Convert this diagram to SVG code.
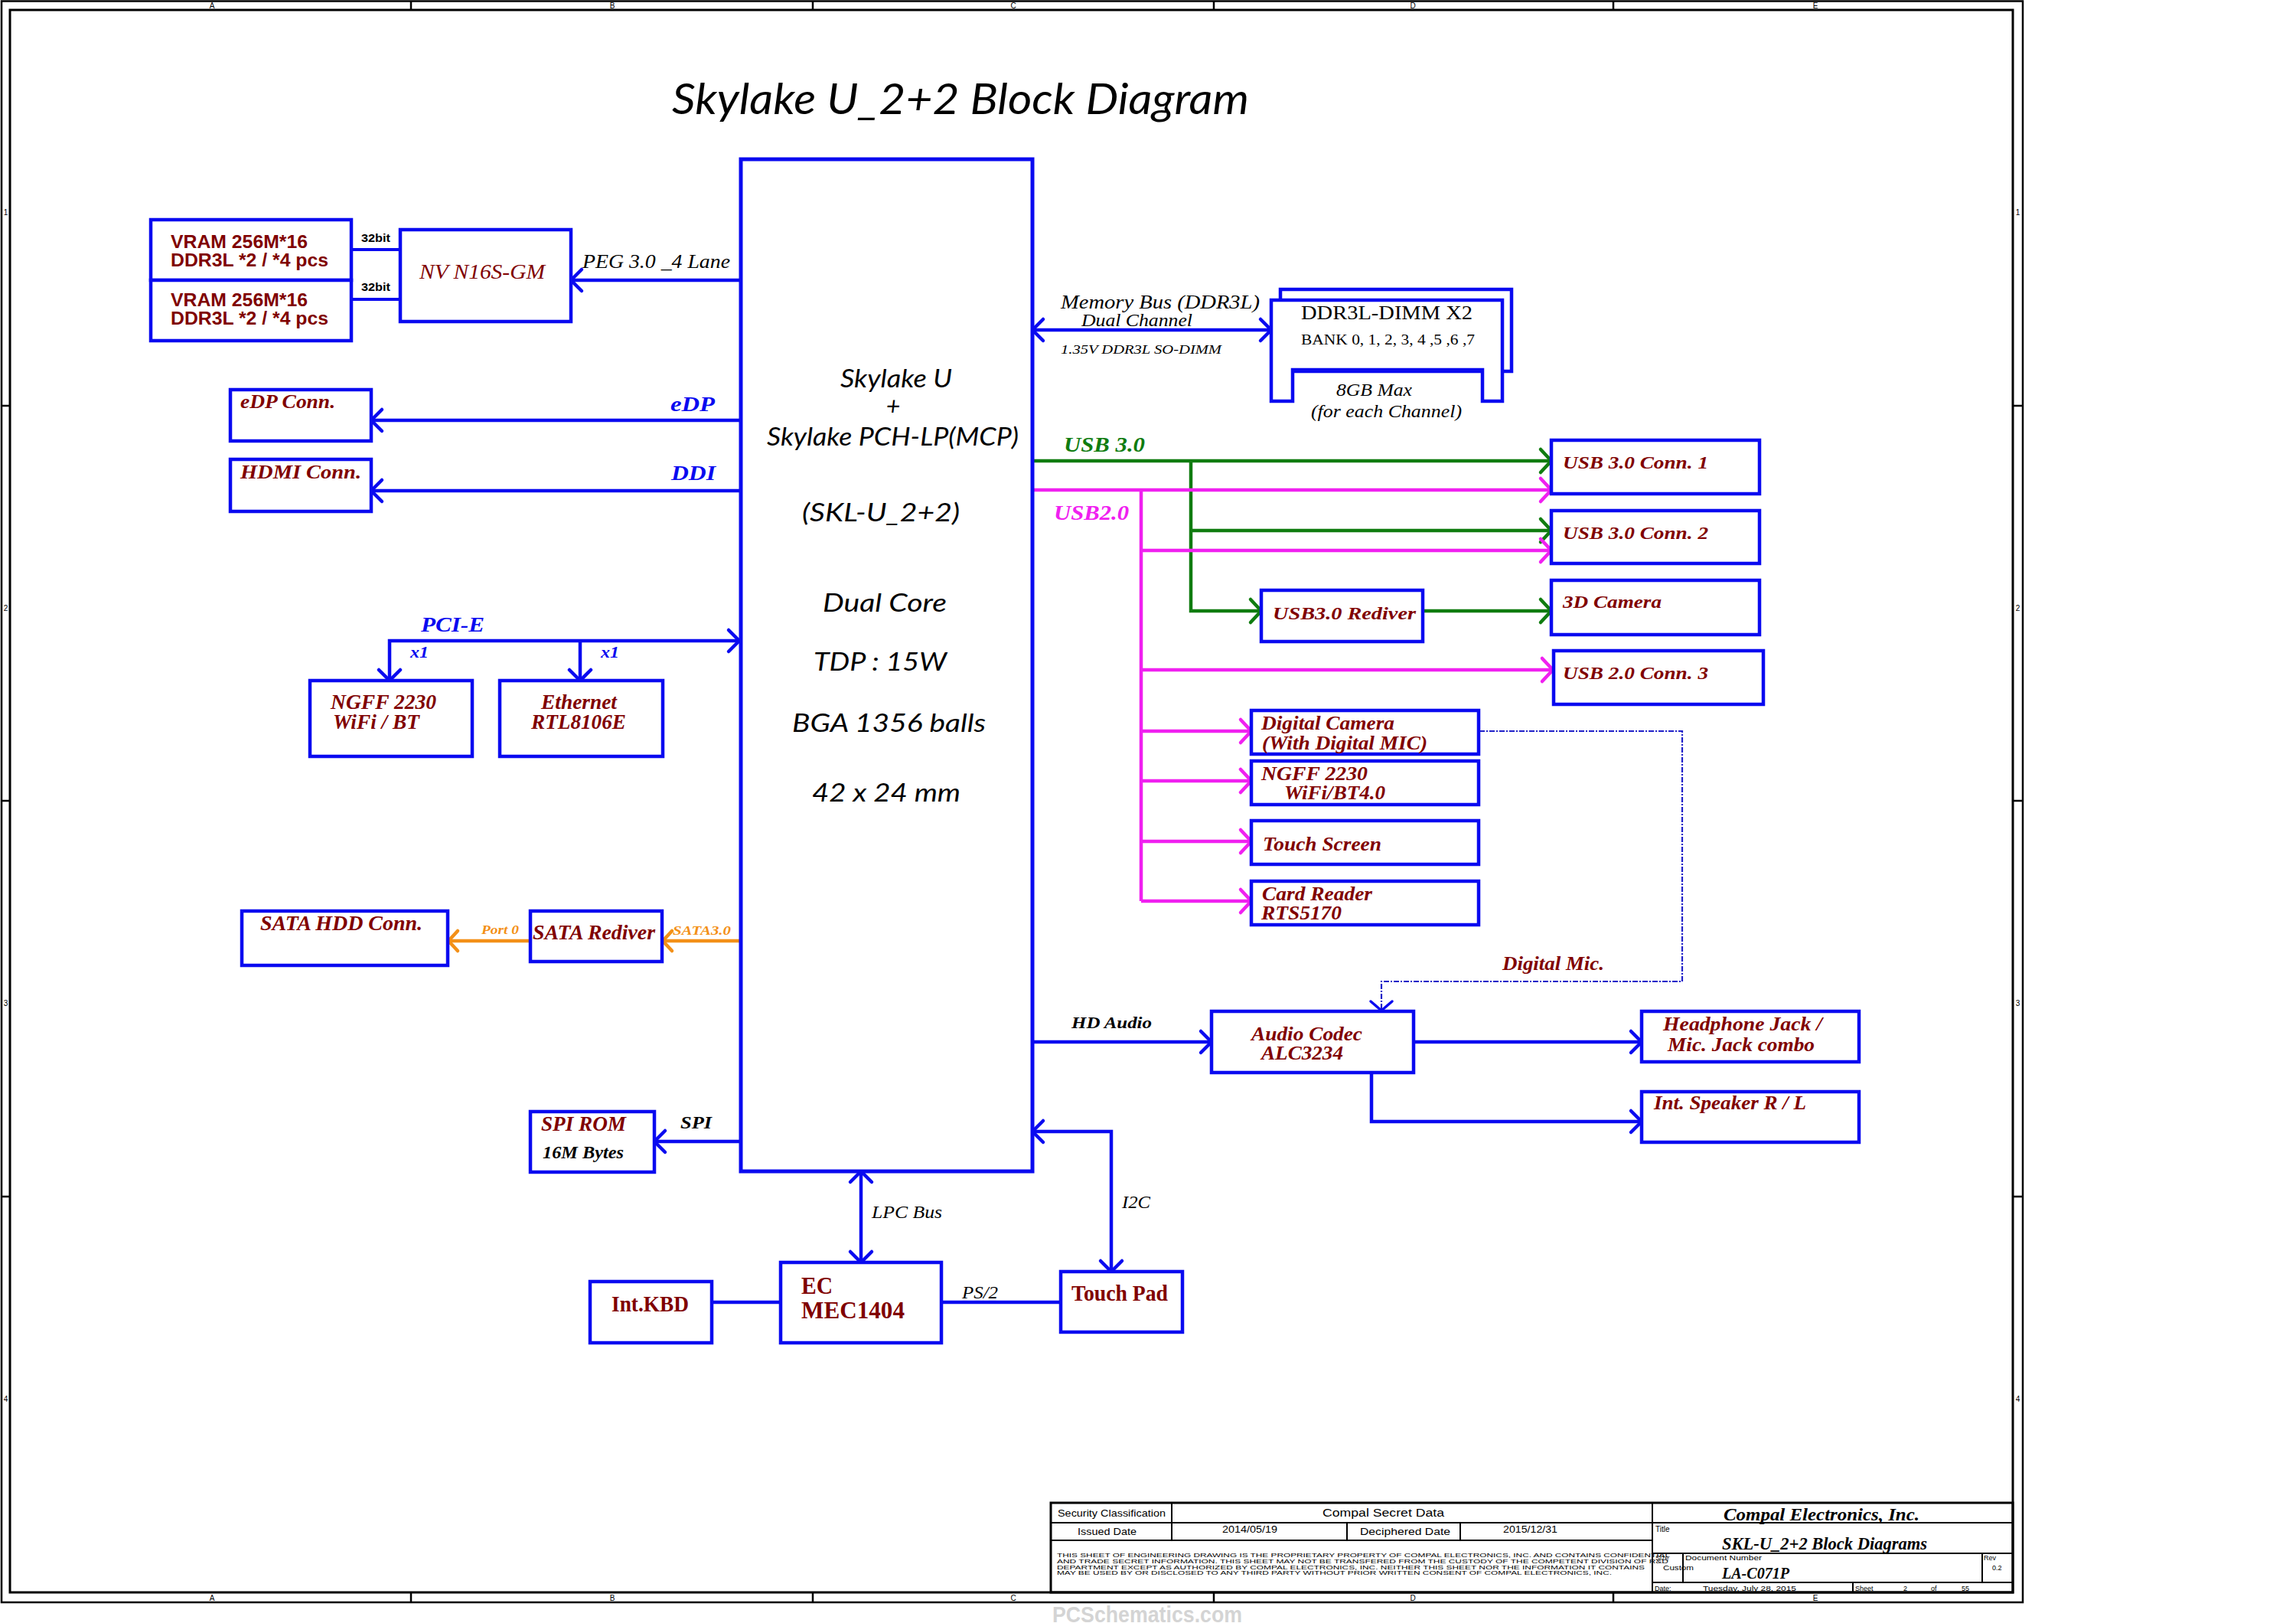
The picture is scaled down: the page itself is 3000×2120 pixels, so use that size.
<svg xmlns="http://www.w3.org/2000/svg" width="3000" height="2120" viewBox="0 0 3000 2120">
<style>
.box{fill:#fff;stroke:#0A0AF0;stroke-width:4.5}
.lb{fill:none;stroke:#0A0AF0;stroke-width:4.5}
.lg{fill:none;stroke:#107C10;stroke-width:4.5}
.lm{fill:none;stroke:#F020F0;stroke-width:4.5}
.lo{fill:none;stroke:#F39018;stroke-width:4.5}
.ld{fill:none;stroke:#2020C8;stroke-width:2.2;stroke-dasharray:7 2 2 2}
.fr{fill:none;stroke:#000;stroke-width:2.5}
.tb{fill:none;stroke:#000;stroke-width:2}
.r{font-family:"Liberation Serif",serif;font-style:italic;font-weight:bold;fill:#800000;font-size:26px}
.ru{font-family:"Liberation Serif",serif;font-weight:bold;fill:#800000;font-size:29px}
.k{font-family:"Liberation Serif",serif;font-style:italic;fill:#000;font-size:22px}
.kb{font-family:"Liberation Serif",serif;font-style:italic;font-weight:bold;fill:#000;font-size:22px}
.d{font-family:"Liberation Serif",serif;fill:#000;font-size:26px}
.bl{font-family:"Liberation Serif",serif;font-style:italic;font-weight:bold;fill:#0A0AF0;font-size:28px}
.gr{font-family:"Liberation Serif",serif;font-style:italic;font-weight:bold;fill:#107C10;font-size:28px}
.mg{font-family:"Liberation Serif",serif;font-style:italic;font-weight:bold;fill:#F020F0;font-size:28px}
.or{font-family:"Liberation Serif",serif;font-style:italic;font-weight:bold;fill:#F39018;font-size:17px}
.cb{font-family:"Liberation Serif",serif;font-style:italic;font-weight:bold;fill:#000;font-size:24px}
.v{font-family:"Liberation Sans",sans-serif;font-weight:bold;fill:#800000;font-size:23px}
.c{font-family:Lato,"Noto Sans",sans-serif;font-style:italic;fill:#000;font-size:32px}
.a{font-family:"Liberation Sans",sans-serif;fill:#000;font-size:13px}
.s{font-family:"Liberation Sans",sans-serif;fill:#000;font-size:10px}
.w{font-family:"Liberation Sans",sans-serif;font-weight:bold;fill:#D4D4D4;font-size:30px}
</style>
<defs>
<marker id="aB" markerUnits="userSpaceOnUse" viewBox="-20 -20 24 40" markerWidth="24" markerHeight="40" refX="0" refY="0" orient="auto-start-reverse"><path d="M-14,-14 L0,0 L-14,14" fill="none" stroke="#0A0AF0" stroke-width="4.5" stroke-linecap="round" stroke-linejoin="round"/></marker>
<marker id="aG" markerUnits="userSpaceOnUse" viewBox="-20 -20 24 40" markerWidth="24" markerHeight="40" refX="0" refY="0" orient="auto-start-reverse"><path d="M-14,-15 L0,0 L-14,15" fill="none" stroke="#107C10" stroke-width="4.5" stroke-linecap="round" stroke-linejoin="round"/></marker>
<marker id="aM" markerUnits="userSpaceOnUse" viewBox="-20 -20 24 40" markerWidth="24" markerHeight="40" refX="0" refY="0" orient="auto-start-reverse"><path d="M-14,-15 L0,0 L-14,15" fill="none" stroke="#F020F0" stroke-width="4.5" stroke-linecap="round" stroke-linejoin="round"/></marker>
<marker id="aO" markerUnits="userSpaceOnUse" viewBox="-20 -20 24 40" markerWidth="24" markerHeight="40" refX="0" refY="0" orient="auto-start-reverse"><path d="M-12,-13 L0,0 L-12,13" fill="none" stroke="#F39018" stroke-width="4.5" stroke-linecap="round" stroke-linejoin="round"/></marker>
<marker id="aD" markerUnits="userSpaceOnUse" viewBox="-20 -20 24 40" markerWidth="24" markerHeight="40" refX="0" refY="0" orient="auto-start-reverse"><path d="M-12,-14 L0,0 L-12,14" fill="none" stroke="#0A0AF0" stroke-width="3.5" stroke-linecap="round" stroke-linejoin="round"/></marker>
</defs>
<rect x="0" y="0" width="3000" height="2120" fill="#fff"/>

<g id="frame">
<rect class="fr" x="2" y="1.5" width="2641" height="2091.5"/>
<rect class="fr" x="13" y="13" width="2617" height="2067" style="stroke-width:3"/>
<path class="fr" d="M537,1.5V13M1062,1.5V13M1586,1.5V13M2108,1.5V13M537,2080V2093M1062,2080V2093M1586,2080V2093M2108,2080V2093M2,530H13M2,1046H13M2,1563H13M2630,530H2643M2630,1046H2643M2630,1563H2643"/>
<text class="s" text-anchor="middle" x="277" y="11">A</text><text class="s" text-anchor="middle" x="800" y="11">B</text><text class="s" text-anchor="middle" x="1324" y="11">C</text><text class="s" text-anchor="middle" x="1846" y="11">D</text><text class="s" text-anchor="middle" x="2372" y="11">E</text>
<text class="s" text-anchor="middle" x="277" y="2091">A</text><text class="s" text-anchor="middle" x="800" y="2091">B</text><text class="s" text-anchor="middle" x="1324" y="2091">C</text><text class="s" text-anchor="middle" x="1846" y="2091">D</text><text class="s" text-anchor="middle" x="2372" y="2091">E</text>
<text class="s" text-anchor="middle" x="7.5" y="281">1</text><text class="s" text-anchor="middle" x="7.5" y="798">2</text><text class="s" text-anchor="middle" x="7.5" y="1314">3</text><text class="s" text-anchor="middle" x="7.5" y="1831">4</text>
<text class="s" text-anchor="middle" x="2636.5" y="281">1</text><text class="s" text-anchor="middle" x="2636.5" y="798">2</text><text class="s" text-anchor="middle" x="2636.5" y="1314">3</text><text class="s" text-anchor="middle" x="2636.5" y="1831">4</text>
</g>

<text x="878" y="149" class="c" style="font-size:56px" textLength="754" lengthAdjust="spacingAndGlyphs">Skylake U_2+2 Block Diagram</text>

<g id="connectors">
<path class="lb" d="M459,326H523M459,391H523" style="stroke-width:4"/>
<path class="lb" d="M968,366H746" marker-end="url(#aB)"/>
<path class="lb" d="M968,549H485" marker-end="url(#aB)"/>
<path class="lb" d="M968,641H485" marker-end="url(#aB)"/>
<path class="lb" d="M1349,431H1661" marker-start="url(#aB)" marker-end="url(#aB)"/>
<path class="lb" d="M509,889V837H966" marker-start="url(#aB)" marker-end="url(#aB)"/>
<path class="lb" d="M758,837V889" marker-end="url(#aB)"/>
<path class="lo" d="M966,1229H866" marker-end="url(#aO)"/>
<path class="lo" d="M693,1229H586" marker-end="url(#aO)"/>
<path class="lb" d="M966,1491H855" marker-end="url(#aB)"/>
<path class="lb" d="M1125,1530V1649" marker-start="url(#aB)" marker-end="url(#aB)"/>
<path class="lb" d="M930,1701H1020"/>
<path class="lb" d="M1230,1701H1386"/>
<path class="lb" d="M1349,1478H1452V1661" marker-start="url(#aB)" marker-end="url(#aB)"/>
<path class="lb" d="M1349,1361H1583" marker-end="url(#aB)"/>
<path class="lb" d="M1847,1361H2145" marker-end="url(#aB)"/>
<path class="lb" d="M1792,1401V1465H2145" marker-end="url(#aB)"/>
<path class="ld" d="M1933,955H2198V1282H1805V1320" marker-end="url(#aD)"/>
<path class="lg" d="M1349,602H2027" marker-end="url(#aG)"/>
<path class="lg" d="M1556,602V798H1648" marker-end="url(#aG)"/>
<path class="lg" d="M1556,693H2027" marker-end="url(#aG)"/>
<path class="lg" d="M1859,798H2027" marker-end="url(#aG)"/>
<path class="lm" d="M1349,640H2027" marker-end="url(#aM)"/>
<path class="lm" d="M1491,640V1177"/>
<path class="lm" d="M1491,719H2027" marker-end="url(#aM)"/>
<path class="lm" d="M1491,875H2029" marker-end="url(#aM)"/>
<path class="lm" d="M1491,955H1635" marker-end="url(#aM)"/>
<path class="lm" d="M1491,1020H1635" marker-end="url(#aM)"/>
<path class="lm" d="M1491,1099H1635" marker-end="url(#aM)"/>
<path class="lm" d="M1491,1177H1635" marker-end="url(#aM)"/>
</g>

<g id="labels">
<text x="472" y="316" class="s" style="font-size:14px;font-weight:bold" textLength="38" lengthAdjust="spacingAndGlyphs">32bit</text>
<text x="472" y="380" class="s" style="font-size:14px;font-weight:bold" textLength="38" lengthAdjust="spacingAndGlyphs">32bit</text>
<text x="761" y="350" class="k" style="font-size:25px" textLength="193" lengthAdjust="spacingAndGlyphs">PEG 3.0 _4 Lane</text>
<text x="876" y="537" class="bl" textLength="58" lengthAdjust="spacingAndGlyphs">eDP</text>
<text x="877" y="627" class="bl" textLength="58" lengthAdjust="spacingAndGlyphs">DDI</text>
<text x="1386" y="403" class="k" style="font-size:26px" textLength="260" lengthAdjust="spacingAndGlyphs">Memory Bus (DDR3L)</text>
<text x="1413" y="426" class="k" style="font-size:23px" textLength="145" lengthAdjust="spacingAndGlyphs">Dual Channel</text>
<text x="1386" y="462" class="k" style="font-size:17px" textLength="210" lengthAdjust="spacingAndGlyphs">1.35V DDR3L SO-DIMM</text>
<text x="1390" y="590" class="gr" textLength="106" lengthAdjust="spacingAndGlyphs">USB 3.0</text>
<text x="1377" y="679" class="mg" textLength="98" lengthAdjust="spacingAndGlyphs">USB2.0</text>
<text x="550" y="825" class="bl" textLength="83" lengthAdjust="spacingAndGlyphs">PCI-E</text>
<text x="536" y="859" class="bl" style="font-size:22px" textLength="24" lengthAdjust="spacingAndGlyphs">x1</text>
<text x="785" y="859" class="bl" style="font-size:22px" textLength="24" lengthAdjust="spacingAndGlyphs">x1</text>
<text x="879" y="1221" class="or" textLength="76" lengthAdjust="spacingAndGlyphs">SATA3.0</text>
<text x="629" y="1220" class="or" textLength="49" lengthAdjust="spacingAndGlyphs">Port 0</text>
<text x="889" y="1474" class="kb" style="font-size:24px" textLength="41" lengthAdjust="spacingAndGlyphs">SPI</text>
<text x="1139" y="1591" class="k" style="font-size:24px" textLength="92" lengthAdjust="spacingAndGlyphs">LPC Bus</text>
<text x="1257" y="1696" class="k" style="font-size:24px" textLength="47" lengthAdjust="spacingAndGlyphs">PS/2</text>
<text x="1466" y="1578" class="k" style="font-size:24px" textLength="37" lengthAdjust="spacingAndGlyphs">I2C</text>
<text x="1400" y="1343" class="kb" textLength="105" lengthAdjust="spacingAndGlyphs">HD Audio</text>
<text x="1963" y="1267" class="r" style="font-size:25px" textLength="133" lengthAdjust="spacingAndGlyphs">Digital Mic.</text>
</g>

<g id="vram1"><rect class="box" x="197" y="287" width="262" height="79"/>
<text x="223" y="324" class="v" textLength="179" lengthAdjust="spacingAndGlyphs">VRAM 256M*16</text>
<text x="223" y="348" class="v" textLength="206" lengthAdjust="spacingAndGlyphs">DDR3L *2 / *4 pcs</text></g>
<g id="vram2"><rect class="box" x="197" y="366" width="262" height="79"/>
<text x="223" y="400" class="v" textLength="179" lengthAdjust="spacingAndGlyphs">VRAM 256M*16</text>
<text x="223" y="424" class="v" textLength="206" lengthAdjust="spacingAndGlyphs">DDR3L *2 / *4 pcs</text></g>
<g id="nv"><rect class="box" x="523" y="300" width="223" height="120"/>
<text x="548" y="364" class="r" style="font-weight:normal;font-size:27px" textLength="164" lengthAdjust="spacingAndGlyphs">NV N16S-GM</text></g>
<g id="edp"><rect class="box" x="301" y="509" width="184" height="67"/>
<text x="314" y="533" class="r" style="font-size:25px" textLength="124" lengthAdjust="spacingAndGlyphs">eDP Conn.</text></g>
<g id="hdmi"><rect class="box" x="301" y="600" width="184" height="68"/>
<text x="314" y="625" class="r" style="font-size:25px" textLength="158" lengthAdjust="spacingAndGlyphs">HDMI  Conn.</text></g>

<g id="cpu"><rect class="box" x="968" y="208" width="381" height="1322" style="stroke-width:5"/>
<text x="1098" y="506" class="c" textLength="146" lengthAdjust="spacingAndGlyphs">Skylake U</text>
<text x="1167" y="542" class="c" text-anchor="middle">+</text>
<text x="1002" y="582" class="c" textLength="329" lengthAdjust="spacingAndGlyphs">Skylake PCH-LP(MCP)</text>
<text x="1048" y="681" class="c" textLength="206" lengthAdjust="spacingAndGlyphs">(SKL-U_2+2)</text>
<text x="1075" y="799" class="c" textLength="162" lengthAdjust="spacingAndGlyphs">Dual Core</text>
<text x="1063" y="876" class="c" textLength="174" lengthAdjust="spacingAndGlyphs">TDP : 15W</text>
<text x="1035" y="956" class="c" textLength="253" lengthAdjust="spacingAndGlyphs">BGA 1356 balls</text>
<text x="1061" y="1047" class="c" textLength="194" lengthAdjust="spacingAndGlyphs">42 x 24 mm</text></g>

<g id="dimm">
<rect class="box" x="1673" y="378" width="302" height="107"/>
<path class="box" d="M1661,392H1963V524H1937V483H1689V524H1661Z"/>
<text x="1700" y="417" class="d" textLength="224" lengthAdjust="spacingAndGlyphs">DDR3L-DIMM X2</text>
<text x="1700" y="450" class="d" style="font-size:19px" textLength="227" lengthAdjust="spacingAndGlyphs">BANK 0, 1, 2, 3, 4 ,5 ,6 ,7</text>
<text x="1746" y="517" class="k" style="font-size:24px" textLength="99" lengthAdjust="spacingAndGlyphs">8GB Max</text>
<text x="1713" y="545" class="k" style="font-size:24px" textLength="197" lengthAdjust="spacingAndGlyphs">(for each Channel)</text>
</g>

<g id="usb3conn1"><rect class="box" x="2027" y="575" width="272" height="70"/>
<text x="2042" y="612" class="r" style="font-size:24px" textLength="190" lengthAdjust="spacingAndGlyphs">USB 3.0 Conn. 1</text></g>
<g id="usb3conn2"><rect class="box" x="2027" y="667" width="272" height="69"/>
<text x="2042" y="704" class="r" style="font-size:24px" textLength="190" lengthAdjust="spacingAndGlyphs">USB 3.0 Conn. 2</text></g>
<g id="camera3d"><rect class="box" x="2027" y="758" width="272" height="71"/>
<text x="2042" y="794" class="r" style="font-size:24px" textLength="129" lengthAdjust="spacingAndGlyphs">3D Camera</text></g>
<g id="usb2conn3"><rect class="box" x="2030" y="850" width="274" height="70"/>
<text x="2042" y="887" class="r" style="font-size:24px" textLength="190" lengthAdjust="spacingAndGlyphs">USB 2.0 Conn. 3</text></g>
<g id="usbredriver"><rect class="box" x="1648" y="771" width="211" height="67"/>
<text x="1663" y="809" class="r" style="font-size:24px" textLength="187" lengthAdjust="spacingAndGlyphs">USB3.0  Rediver</text></g>

<g id="digicam"><rect class="box" x="1635" y="928" width="297" height="57"/>
<text x="1648" y="953" class="r" textLength="174" lengthAdjust="spacingAndGlyphs">Digital Camera</text>
<text x="1649" y="979" class="r" textLength="216" lengthAdjust="spacingAndGlyphs">(With Digital MIC)</text></g>
<g id="ngffbt4"><rect class="box" x="1635" y="994" width="297" height="57"/>
<text x="1648" y="1019" class="r" textLength="139" lengthAdjust="spacingAndGlyphs">NGFF 2230</text>
<text x="1678" y="1044" class="r" textLength="132" lengthAdjust="spacingAndGlyphs">WiFi/BT4.0</text></g>
<g id="touchscreen"><rect class="box" x="1635" y="1072" width="297" height="57"/>
<text x="1650" y="1111" class="r" textLength="155" lengthAdjust="spacingAndGlyphs">Touch Screen</text></g>
<g id="cardreader"><rect class="box" x="1635" y="1151" width="297" height="57"/>
<text x="1649" y="1176" class="r" textLength="144" lengthAdjust="spacingAndGlyphs">Card Reader</text>
<text x="1648" y="1201" class="r" textLength="105" lengthAdjust="spacingAndGlyphs">RTS5170</text></g>

<g id="codec"><rect class="box" x="1583" y="1321" width="264" height="80"/>
<text x="1635" y="1359" class="r" textLength="145" lengthAdjust="spacingAndGlyphs">Audio Codec</text>
<text x="1648" y="1384" class="r" textLength="107" lengthAdjust="spacingAndGlyphs">ALC3234</text></g>
<g id="headphone"><rect class="box" x="2145" y="1321" width="284" height="66"/>
<text x="2173" y="1346" class="r" textLength="208" lengthAdjust="spacingAndGlyphs">Headphone Jack /</text>
<text x="2179" y="1373" class="r" textLength="192" lengthAdjust="spacingAndGlyphs">Mic. Jack combo</text></g>
<g id="speaker"><rect class="box" x="2145" y="1426" width="284" height="66"/>
<text x="2161" y="1449" class="r" textLength="199" lengthAdjust="spacingAndGlyphs">Int. Speaker R / L</text></g>

<g id="ngffwifi"><rect class="box" x="405" y="889" width="212" height="99"/>
<text x="432" y="926" class="r" style="font-size:27px" textLength="138" lengthAdjust="spacingAndGlyphs">NGFF 2230</text>
<text x="435" y="952" class="r" style="font-size:27px" textLength="113" lengthAdjust="spacingAndGlyphs">WiFi / BT</text></g>
<g id="ethernet"><rect class="box" x="653" y="889" width="213" height="99"/>
<text x="707" y="926" class="r" style="font-size:27px" textLength="99" lengthAdjust="spacingAndGlyphs">Ethernet</text>
<text x="694" y="952" class="r" style="font-size:27px" textLength="124" lengthAdjust="spacingAndGlyphs">RTL8106E</text></g>
<g id="satahdd"><rect class="box" x="316" y="1190" width="269" height="71"/>
<text x="340" y="1215" class="r" style="font-size:27px" textLength="212" lengthAdjust="spacingAndGlyphs">SATA HDD Conn.</text></g>
<g id="sataredriver"><rect class="box" x="693" y="1190" width="172" height="66"/>
<text x="696" y="1227" class="r" style="font-size:27px" textLength="160" lengthAdjust="spacingAndGlyphs">SATA Rediver</text></g>
<g id="spirom"><rect class="box" x="693" y="1452" width="162" height="79"/>
<text x="707" y="1477" class="r" style="font-size:27px" textLength="111" lengthAdjust="spacingAndGlyphs">SPI ROM</text>
<text x="709" y="1513" class="kb" style="font-size:23px" textLength="106" lengthAdjust="spacingAndGlyphs">16M Bytes</text></g>
<g id="ec"><rect class="box" x="1020" y="1649" width="210" height="105"/>
<text x="1047" y="1690" class="ru" style="font-size:31px" textLength="41" lengthAdjust="spacingAndGlyphs">EC</text>
<text x="1047" y="1722" class="ru" style="font-size:31px" textLength="135" lengthAdjust="spacingAndGlyphs">MEC1404</text></g>
<g id="kbd"><rect class="box" x="771" y="1674" width="159" height="80"/>
<text x="799" y="1713" class="ru" textLength="101" lengthAdjust="spacingAndGlyphs">Int.KBD</text></g>
<g id="touchpad"><rect class="box" x="1386" y="1661" width="159" height="79"/>
<text x="1400" y="1699" class="ru" textLength="126" lengthAdjust="spacingAndGlyphs">Touch Pad</text></g>

<g id="titleblock">
<rect class="tb" x="1373" y="1963" width="1257" height="117" style="stroke-width:3"/>
<path class="tb" d="M1373,1989H2630M1373,2012H2159M1531,1963V2012M1760,1989V2012M1908,1989V2012M2159,1963V2080M2159,2029H2630M2159,2067H2630M2199,2029V2067M2590,2029V2067M2421,2067V2080"/>
<text x="1382" y="1981" class="a" textLength="141" lengthAdjust="spacingAndGlyphs">Security Classification</text>
<text x="1728" y="1981" class="a" style="font-size:14px" textLength="159" lengthAdjust="spacingAndGlyphs">Compal Secret Data</text>
<text x="1408" y="2005" class="a" textLength="77" lengthAdjust="spacingAndGlyphs">Issued Date</text>
<text x="1597" y="2002" class="a" textLength="72" lengthAdjust="spacingAndGlyphs">2014/05/19</text>
<text x="1777" y="2005" class="a" textLength="118" lengthAdjust="spacingAndGlyphs">Deciphered Date</text>
<text x="1964" y="2002" class="a" textLength="71" lengthAdjust="spacingAndGlyphs">2015/12/31</text>
<text x="1381" y="2034" class="a" style="font-size:8px" textLength="801" lengthAdjust="spacingAndGlyphs">THIS SHEET OF ENGINEERING DRAWING IS THE PROPRIETARY PROPERTY OF COMPAL ELECTRONICS, INC. AND CONTAINS CONFIDENTIAL</text>
<text x="1381" y="2042" class="a" style="font-size:8px" textLength="799" lengthAdjust="spacingAndGlyphs">AND TRADE SECRET INFORMATION. THIS SHEET MAY NOT BE TRANSFERED FROM THE CUSTODY OF THE COMPETENT DIVISION OF R&amp;D</text>
<text x="1381" y="2049.5" class="a" style="font-size:8px" textLength="768" lengthAdjust="spacingAndGlyphs">DEPARTMENT EXCEPT AS AUTHORIZED BY COMPAL ELECTRONICS, INC. NEITHER THIS SHEET NOR THE INFORMATION IT CONTAINS</text>
<text x="1381" y="2057" class="a" style="font-size:8px" textLength="725" lengthAdjust="spacingAndGlyphs">MAY BE USED BY OR DISCLOSED TO ANY THIRD PARTY WITHOUT PRIOR WRITTEN CONSENT OF COMPAL ELECTRONICS, INC.</text>
<text x="2252" y="1986" class="cb" textLength="256" lengthAdjust="spacingAndGlyphs">Compal Electronics, Inc.</text>
<text x="2163" y="2001" class="s">Title</text>
<text x="2250" y="2024" class="cb" textLength="268" lengthAdjust="spacingAndGlyphs">SKL-U_2+2 Block Diagrams</text>
<text x="2163" y="2038" class="s" style="font-size:9px">Size</text>
<text x="2202" y="2038" class="s" style="font-size:9px" textLength="100" lengthAdjust="spacingAndGlyphs">Document Number</text>
<text x="2592" y="2038" class="s" style="font-size:9px">Rev</text>
<text x="2173" y="2051" class="s" style="font-size:9px" textLength="40" lengthAdjust="spacingAndGlyphs">Custom</text>
<text x="2250" y="2062" class="cb" style="font-size:20px" textLength="88" lengthAdjust="spacingAndGlyphs">LA-C071P</text>
<text x="2603" y="2051" class="s" style="font-size:9px">0.2</text>
<text x="2162" y="2077.5" class="s" style="font-size:9px">Date:</text>
<text x="2225" y="2077.5" class="s" style="font-size:9px" textLength="122" lengthAdjust="spacingAndGlyphs">Tuesday, July 28, 2015</text>
<text x="2424" y="2077.5" class="s" style="font-size:9px">Sheet</text>
<text x="2487" y="2077.5" class="s" style="font-size:9px">2</text>
<text x="2523" y="2077.5" class="s" style="font-size:9px">of</text>
<text x="2563" y="2077.5" class="s" style="font-size:9px">55</text>
</g>

<text x="1375" y="2119" class="w" textLength="248" lengthAdjust="spacingAndGlyphs">PCSchematics.com</text>
</svg>
